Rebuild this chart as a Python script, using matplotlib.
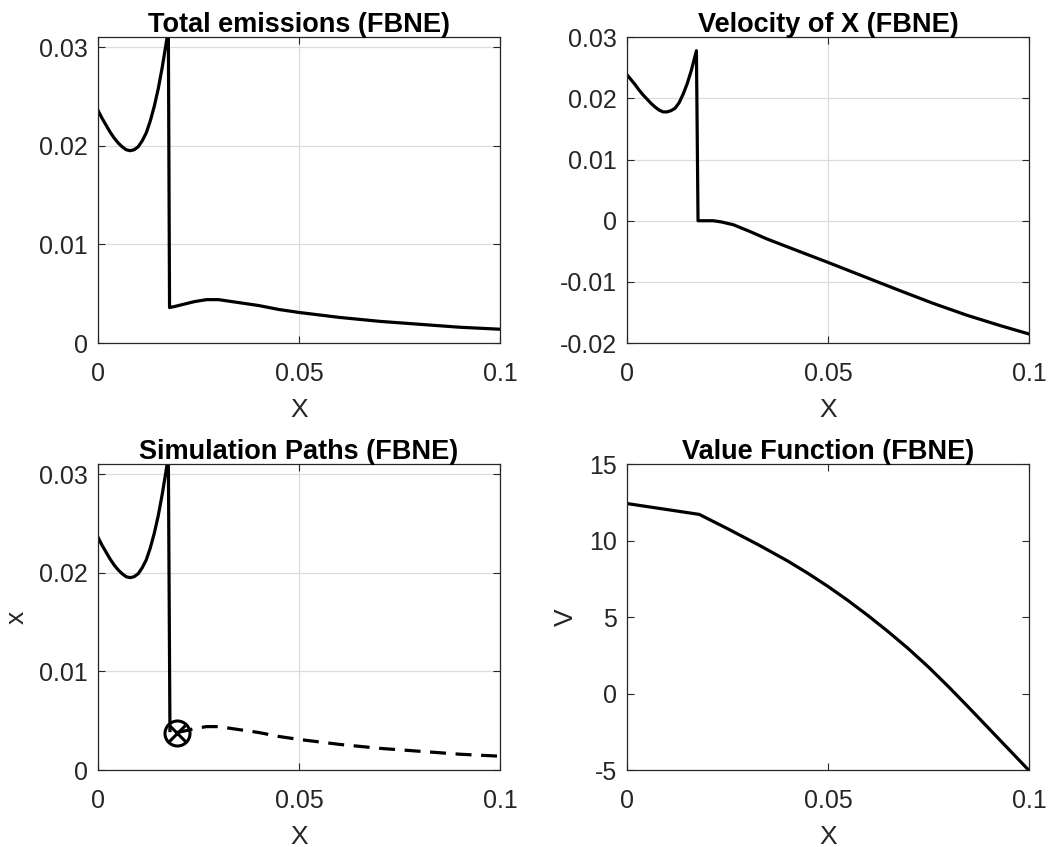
import matplotlib
matplotlib.use('Agg')
import matplotlib.pyplot as plt
from matplotlib.ticker import FixedLocator, FixedFormatter

plt.rcParams['font.family'] = ['Liberation Sans', 'DejaVu Sans']

# emissions before the jump
x_pre = [0, 0.001, 0.002, 0.003, 0.004, 0.005, 0.006, 0.007, 0.008, 0.009, 0.010,
         0.011, 0.012, 0.013, 0.014, 0.015, 0.016, 0.017, 0.0175]
e_pre = [0.0236, 0.0228, 0.0221, 0.0214, 0.0208, 0.0203, 0.0199, 0.0196, 0.0195,
         0.0196, 0.0199, 0.0205, 0.0213, 0.0225, 0.0240, 0.0258, 0.0280, 0.0305, 0.0318]
# emissions after the jump
x_post = [0.0178, 0.019, 0.020, 0.022, 0.024, 0.027, 0.030, 0.035, 0.040, 0.045, 0.050,
          0.060, 0.070, 0.080, 0.090, 0.100]
e_post = [0.0036, 0.0037, 0.0038, 0.0040, 0.0042, 0.0044, 0.0044, 0.0041, 0.0038,
          0.0034, 0.0031, 0.0026, 0.0022, 0.0019, 0.0016, 0.0014]

# velocity of X
v_x = [0, 0.001, 0.002, 0.003, 0.004, 0.005, 0.006, 0.007, 0.008, 0.009, 0.010,
       0.011, 0.012, 0.013, 0.014, 0.015, 0.016, 0.0173,
       0.0177, 0.0215, 0.0235, 0.0265, 0.0306, 0.0348, 0.0430, 0.0500, 0.0596,
       0.0679, 0.0762, 0.0845, 0.0928, 0.1000]
v_y = [0.0239, 0.0231, 0.0223, 0.0214, 0.0206, 0.0199, 0.0192, 0.0186, 0.0181,
       0.0178, 0.0178, 0.0180, 0.0184, 0.0193, 0.0207, 0.0224, 0.0245, 0.0278,
       0.0, 0.0, -0.0002, -0.00066, -0.00176, -0.00297, -0.00505, -0.00681,
       -0.00929, -0.01143, -0.01352, -0.01544, -0.01714, -0.01852]

# simulation path (dashed part) and final point
sim_x = [0.0196, 0.022, 0.024, 0.027, 0.030, 0.035, 0.040, 0.045, 0.050,
         0.060, 0.070, 0.080, 0.090, 0.100]
sim_y = [0.0038, 0.0040, 0.0042, 0.0044, 0.0044, 0.0041, 0.0038, 0.0034, 0.0031,
         0.0026, 0.0022, 0.0019, 0.0016, 0.0014]
end_x = [0.0196]
end_y = [0.0038]

# value function
V_x = [0, 0.018, 0.025, 0.033, 0.040, 0.045, 0.050, 0.055, 0.060, 0.065, 0.070,
       0.075, 0.080, 0.085, 0.090, 0.095, 0.100]
V_y = [12.43, 11.72, 10.79, 9.69, 8.67, 7.87, 7.01, 6.085, 5.095, 4.045, 2.935,
       1.735, 0.445, -0.905, -2.28, -3.655, -5.03]

lw = 2.3
fs_tick = 18
fs_lab = 19
fs_title = 19.5


def style(ax, yticks, ylabels, ylim, grid=True):
    ax.set_xlim(0, 0.1)
    ax.set_ylim(*ylim)
    ax.xaxis.set_major_locator(FixedLocator([0, 0.05, 0.1]))
    ax.xaxis.set_major_formatter(FixedFormatter(['0', '0.05', '0.1']))
    ax.yaxis.set_major_locator(FixedLocator(yticks))
    ax.yaxis.set_major_formatter(FixedFormatter(ylabels))
    ax.tick_params(direction='in', length=5, width=0.8, top=True, right=True,
                   labelsize=fs_tick, colors='#262626')
    ax.tick_params(axis='x', pad=14)
    ax.tick_params(axis='y', pad=7)
    for s in ax.spines.values():
        s.set_color('#262626')
        s.set_linewidth(0.9)
    if grid:
        ax.grid(True, color='#dcdcdc', linewidth=0.9)
        ax.set_axisbelow(True)
    ax.set_xlabel('X', fontsize=fs_lab, color='#262626', labelpad=8)


fig = plt.figure(figsize=(10.5, 8.47), dpi=100)
w, h = 0.383, 0.361
ax1 = fig.add_axes([0.0933, 0.595, w, h])
ax2 = fig.add_axes([0.597, 0.595, w, h])
ax3 = fig.add_axes([0.0933, 0.0909, w, h])
ax4 = fig.add_axes([0.597, 0.0909, w, h])

ax1.plot(x_pre + x_post, e_pre + e_post, color='k', linewidth=lw)
style(ax1, [0, 0.01, 0.02, 0.03], ['0', '0.01', '0.02', '0.03'], (0, 0.031))
ax1.set_title('Total emissions (FBNE)', fontsize=fs_title, fontweight='bold', pad=4)

ax2.plot(v_x, v_y, color='k', linewidth=lw)
style(ax2, [-0.02, -0.01, 0, 0.01, 0.02, 0.03],
      ['-0.02', '-0.01', '0', '0.01', '0.02', '0.03'], (-0.02, 0.03))
ax2.set_title('Velocity of X (FBNE)', fontsize=fs_title, fontweight='bold', pad=4)

ax3.plot(x_pre + [0.0179], e_pre + [0.0040], color='k', linewidth=lw)
ax3.plot(sim_x, sim_y, color='k', linewidth=lw, linestyle=(0, (5, 3)))
ax3.plot(end_x, end_y, marker='o', markersize=18, markerfacecolor='none',
         markeredgecolor='k', markeredgewidth=2.2, linestyle='none')
ax3.plot(end_x, end_y, marker='x', markersize=12, markeredgecolor='k',
         markeredgewidth=2.2, linestyle='none')
style(ax3, [0, 0.01, 0.02, 0.03], ['0', '0.01', '0.02', '0.03'], (0, 0.031))
ax3.set_ylabel('x', fontsize=fs_lab, color='#262626', labelpad=8)
ax3.set_title('Simulation Paths (FBNE)', fontsize=fs_title, fontweight='bold', pad=4)

ax4.plot(V_x, V_y, color='k', linewidth=lw)
style(ax4, [-5, 0, 5, 10, 15], ['-5', '0', '5', '10', '15'], (-5, 15), grid=False)
ax4.set_ylabel('V', fontsize=fs_lab, color='#262626', labelpad=8)
ax4.set_title('Value Function (FBNE)', fontsize=fs_title, fontweight='bold', pad=4)

fig.savefig('out.png', dpi=100)
plt.close(fig)
